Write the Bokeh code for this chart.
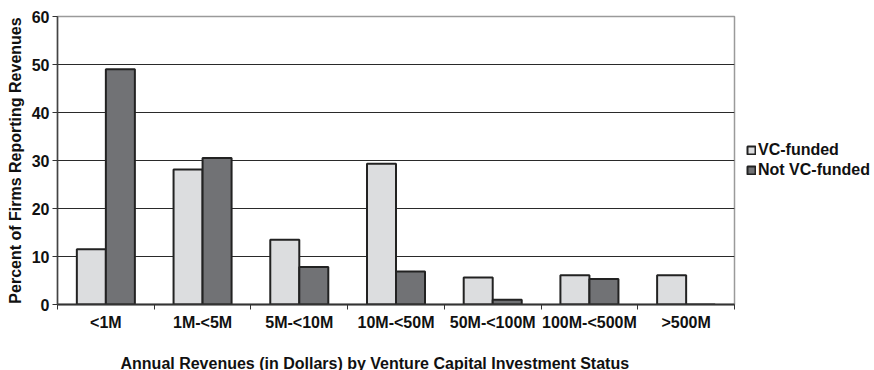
import numpy as np
from bokeh.plotting import figure
from bokeh.models import (ColumnDataSource, FixedTicker, Legend, LegendItem, Range1d, Title)
from bokeh.transform import dodge
from bokeh.embed import file_html
from bokeh.resources import INLINE

categories = ["<1M", "1M-<5M", "5M-<10M", "10M-<50M", "50M-<100M", "100M-<500M", ">500M"]
vc_funded = [11.5, 28.1, 13.5, 29.3, 5.6, 6.1, 6.1]
not_vc_funded = [49.0, 30.5, 7.8, 6.9, 1.0, 5.3, 0.0]
y_ticks = [0, 10, 20, 30, 40, 50, 60]
series_names = ["VC-funded", "Not VC-funded"]

FONT = "Liberation Sans"
n = len(categories)
pos = np.arange(n) + 0.5

src = ColumnDataSource(dict(x=pos, cat=categories, vc=vc_funded, nvc=not_vc_funded))

p = figure(frame_width=677, frame_height=288, output_backend="svg", toolbar_location=None,
           x_range=Range1d(0, n), y_range=Range1d(0, 60),
           min_border_left=57, min_border_right=140, min_border_top=16, min_border_bottom=66)
p.background_fill_color = "white"
p.border_fill_color = "white"
p.outline_line_color = "#9a9a9a"
p.outline_line_width = 1.5

r1 = p.vbar(x=dodge("x", -0.15, range=p.x_range), top="vc", width=0.3, source=src,
            fill_color="#dcdddf", line_color="#222222", line_width=2)
r2 = p.vbar(x=dodge("x", 0.15, range=p.x_range), top="nvc", width=0.3, source=src,
            fill_color="#717275", line_color="#222222", line_width=2)

# grid
p.xgrid.visible = False
p.ygrid.ticker = FixedTicker(ticks=y_ticks[1:-1])
p.ygrid.grid_line_color = "#2a2a2a"
p.ygrid.grid_line_width = 1.2
p.ygrid.level = "underlay"

# x axis
xa = p.xaxis[0]
xa.ticker = FixedTicker(ticks=list(pos), minor_ticks=list(range(n + 1)))
xa.major_label_overrides = {float(v): c for v, c in zip(pos, categories)}
xa.major_tick_out = 0
xa.major_tick_in = 0
xa.minor_tick_out = 5
xa.minor_tick_in = 0
xa.minor_tick_line_color = "#333333"
xa.axis_line_color = "#333333"
xa.axis_line_width = 2
xa.major_label_text_font = FONT
xa.major_label_text_font_style = "bold"
xa.major_label_text_font_size = "16px"
xa.major_label_text_color = "#111111"
xa.major_label_standoff = 4

# y axis
ya = p.yaxis[0]
ya.ticker = FixedTicker(ticks=y_ticks)
ya.major_tick_out = 5
ya.major_tick_in = 0
ya.minor_tick_out = 0
ya.minor_tick_in = 0
ya.major_tick_line_color = "#333333"
ya.axis_line_color = "#444444"
ya.axis_line_width = 1.5
ya.major_label_text_font = FONT
ya.major_label_text_font_style = "bold"
ya.major_label_text_font_size = "16px"
ya.major_label_text_color = "#111111"
ya.major_label_standoff = 3
ya.axis_label = "Percent of Firms Reporting Revenues"
ya.axis_label_text_font = FONT
ya.axis_label_text_font_style = "bold"
ya.axis_label_text_font_size = "16px"
ya.axis_label_text_color = "#111111"
ya.axis_label_standoff = 5

# x title
t = Title(text="Annual Revenues (in Dollars) by Venture Capital Investment Status",
          align="left", offset=63, text_font=FONT, text_font_style="bold",
          text_font_size="16px", text_color="#111111", standoff=38)
p.add_layout(t, "below")

legend = Legend(items=[LegendItem(label=series_names[0], renderers=[r1]),
                       LegendItem(label=series_names[1], renderers=[r2])],
                location="center_left", orientation="vertical",
                glyph_width=10, glyph_height=10, label_standoff=2,
                label_text_font=FONT, label_text_font_style="bold",
                label_text_font_size="16px", label_text_color="#111111",
                label_height=20, spacing=0, padding=0, margin=12,
                border_line_color=None, background_fill_alpha=0)
p.add_layout(legend, "right")

open("out.html", "w").write(file_html(p, INLINE))
